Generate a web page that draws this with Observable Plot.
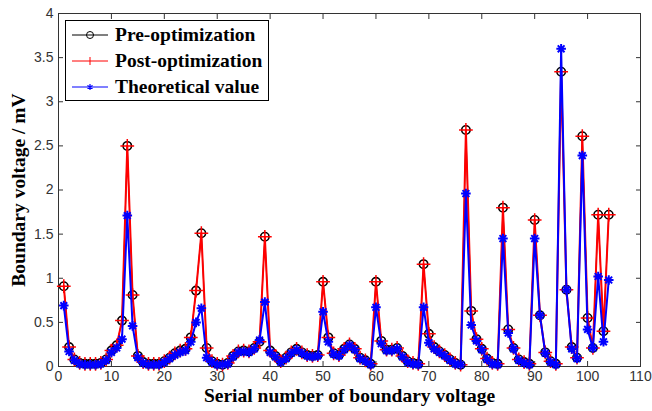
<!DOCTYPE html>
<html>
<head>
<meta charset="utf-8">
<script src="https://cdn.jsdelivr.net/npm/d3@7"></script>
<script src="https://cdn.jsdelivr.net/npm/@observablehq/plot@0.6"></script>
<style>
  body { margin: 0; background: #fff; }
  #wrap { position: relative; width: 652px; height: 411px; }
  #legend {
    position: absolute; left: 65px; top: 20px; width: 202px; height: 79px;
    background: #fff; border: 1px solid #000;
    font: bold 19.5px "Liberation Serif", "Times New Roman", serif; color: #000;
  }
  .row { position: absolute; left: 0; height: 26px; display: flex; align-items: center; white-space: nowrap; }
  .row svg { margin-left: 6px; margin-right: 7px; }
</style>
</head>
<body>
<div id="wrap"></div>
<script>
const serial = Array.from({length: 104}, (_, i) => i + 1);

const preOptimization = [
  0.91, 0.22, 0.08, 0.04, 0.03, 0.03, 0.03, 0.04, 0.08, 0.18,
  0.24, 0.52, 2.50, 0.81, 0.12, 0.05, 0.03, 0.03, 0.03, 0.06,
  0.10, 0.15, 0.18, 0.20, 0.33, 0.86, 1.51, 0.21, 0.06, 0.03,
  0.02, 0.04, 0.12, 0.17, 0.18, 0.17, 0.21, 0.28, 1.47, 0.18,
  0.12, 0.06, 0.10, 0.16, 0.20, 0.16, 0.13, 0.12, 0.13, 0.96,
  0.33, 0.15, 0.13, 0.20, 0.25, 0.20, 0.10, 0.07, 0.03, 0.96,
  0.29, 0.19, 0.19, 0.21, 0.12, 0.06, 0.04, 0.03, 1.16, 0.37,
  0.22, 0.17, 0.13, 0.08, 0.04, 0.02, 2.68, 0.63, 0.31, 0.20,
  0.09, 0.04, 0.03, 1.80, 0.42, 0.21, 0.08, 0.05, 0.03, 1.66,
  0.58, 0.16, 0.06, 0.03, 3.34, 0.87, 0.22, 0.10, 2.61, 0.55,
  0.21, 1.72, 0.40, 1.72
];

const postOptimization = [
  0.91, 0.22, 0.08, 0.04, 0.03, 0.03, 0.03, 0.04, 0.08, 0.18,
  0.24, 0.52, 2.50, 0.81, 0.12, 0.05, 0.03, 0.03, 0.03, 0.06,
  0.10, 0.15, 0.18, 0.20, 0.33, 0.86, 1.51, 0.21, 0.06, 0.03,
  0.02, 0.04, 0.12, 0.17, 0.18, 0.17, 0.21, 0.28, 1.47, 0.18,
  0.12, 0.06, 0.10, 0.16, 0.20, 0.16, 0.13, 0.12, 0.13, 0.96,
  0.33, 0.15, 0.13, 0.20, 0.25, 0.20, 0.10, 0.07, 0.03, 0.96,
  0.29, 0.19, 0.19, 0.21, 0.12, 0.06, 0.04, 0.03, 1.16, 0.37,
  0.22, 0.17, 0.13, 0.08, 0.04, 0.02, 2.68, 0.63, 0.31, 0.20,
  0.09, 0.04, 0.03, 1.80, 0.42, 0.21, 0.08, 0.05, 0.03, 1.66,
  0.58, 0.16, 0.06, 0.03, 3.34, 0.87, 0.22, 0.10, 2.61, 0.55,
  0.21, 1.72, 0.40, 1.72
];

const theoreticalValue = [
  0.69, 0.17, 0.07, 0.03, 0.02, 0.02, 0.02, 0.03, 0.07, 0.16,
  0.21, 0.31, 1.71, 0.46, 0.10, 0.04, 0.02, 0.02, 0.02, 0.05,
  0.09, 0.13, 0.16, 0.18, 0.28, 0.50, 0.66, 0.10, 0.05, 0.02,
  0.02, 0.03, 0.11, 0.16, 0.17, 0.16, 0.20, 0.30, 0.73, 0.16,
  0.11, 0.05, 0.09, 0.15, 0.19, 0.15, 0.12, 0.11, 0.12, 0.62,
  0.28, 0.14, 0.12, 0.19, 0.24, 0.19, 0.09, 0.06, 0.02, 0.67,
  0.26, 0.18, 0.18, 0.20, 0.11, 0.05, 0.03, 0.02, 0.67, 0.27,
  0.20, 0.16, 0.12, 0.07, 0.03, 0.02, 1.96, 0.47, 0.29, 0.19,
  0.08, 0.03, 0.02, 1.45, 0.38, 0.20, 0.07, 0.04, 0.02, 1.45,
  0.58, 0.15, 0.05, 0.02, 3.60, 0.87, 0.20, 0.09, 2.39, 0.42,
  0.21, 1.02, 0.28, 0.98
];

const xTicks = [0, 10, 20, 30, 40, 50, 60, 70, 80, 90, 100, 110];
const yTicks = [0, 0.5, 1, 1.5, 2, 2.5, 3, 3.5, 4];
const seriesNames = ["Pre-optimization", "Post-optimization", "Theoretical value"];
const xLabel = "Serial number of boundary voltage";
const yLabel = "Boundary voltage / mV";

const pre = serial.map((s, i) => ({s, v: preOptimization[i]}));
const post = serial.map((s, i) => ({s, v: postOptimization[i]}));
const theo = serial.map((s, i) => ({s, v: theoreticalValue[i]}));

const tickFontFamily = "Liberation Sans, Arial, sans-serif";
const titleFont = "Liberation Serif, Times New Roman, serif";

// MATLAB-style 8-armed asterisk marker
const star8 = {
  draw(context, size) {
    const r = Math.sqrt(size / Math.PI);
    const d = r * Math.SQRT1_2;
    context.moveTo(-r, 0); context.lineTo(r, 0);
    context.moveTo(0, -r); context.lineTo(0, r);
    context.moveTo(-d, -d); context.lineTo(d, d);
    context.moveTo(-d, d); context.lineTo(d, -d);
  }
};

const chart = Plot.plot({
  width: 652,
  height: 411,
  marginLeft: 58,
  marginRight: 12,
  marginTop: 13,
  marginBottom: 45,
  style: {background: "#fff", color: "#333"},
  x: {domain: [0, 110]},
  y: {domain: [0, 4]},
  marks: [
    Plot.axisX(xTicks, {anchor: "bottom", tickSize: -5, tickPadding: 10, label: null, fontSize: 14, fontFamily: tickFontFamily, stroke: "#333"}),
    Plot.axisX(xTicks, {anchor: "top", tickSize: -5, label: null, tickFormat: () => "", stroke: "#333"}),
    Plot.axisY(yTicks, {anchor: "left", tickSize: -5, tickPadding: 10, label: null, fontSize: 14, fontFamily: tickFontFamily, tickFormat: d => String(d), stroke: "#333"}),
    Plot.axisY(yTicks, {anchor: "right", tickSize: -5, label: null, tickFormat: () => "", stroke: "#333"}),
    Plot.frame({stroke: "#333"}),
    Plot.line(pre, {x: "s", y: "v", stroke: "#000", strokeWidth: 1}),
    Plot.dot(pre, {x: "s", y: "v", symbol: "circle", r: 4.2, stroke: "#000", strokeWidth: 1.6, fill: "none"}),
    Plot.line(post, {x: "s", y: "v", stroke: "#ff0000", strokeWidth: 2}),
    Plot.dot(post, {x: "s", y: "v", symbol: "plus", r: 4.5, stroke: "#ff0000", strokeWidth: 1.5}),
    Plot.line(theo, {x: "s", y: "v", stroke: "#0000ff", strokeWidth: 2}),
    Plot.dot(theo, {x: "s", y: "v", symbol: star8, r: 4.8, stroke: "#0000ff", strokeWidth: 2}),
    Plot.text([xLabel], {frameAnchor: "bottom", dy: 35, text: d => d, fontSize: 19.5, fontWeight: "bold", fontFamily: titleFont, fill: "#000"}),
    Plot.text([yLabel], {frameAnchor: "left", dx: -40, rotate: -90, textAnchor: "middle", text: d => d, fontSize: 19.5, fontWeight: "bold", fontFamily: titleFont, fill: "#000"})
  ]
});

const wrap = document.getElementById("wrap");
wrap.appendChild(chart);

// Legend
const legend = document.createElement("div");
legend.id = "legend";
const samples = [
  {stroke: "#000", sym: "circle"},
  {stroke: "#ff0000", sym: "plus"},
  {stroke: "#0000ff", sym: "asterisk"}
];
const rowTops = [1, 27, 53];
seriesNames.forEach((name, i) => {
  const row = document.createElement("div");
  row.className = "row";
  row.style.top = rowTops[i] + "px";
  const smp = samples[i];
  let marker = "";
  if (smp.sym === "circle") marker = `<circle cx="18" cy="7" r="3.5" fill="none" stroke="#000" stroke-width="1"/>`;
  if (smp.sym === "plus") marker = `<path d="M18,3V11" stroke="${smp.stroke}" stroke-width="1"/>`;
  if (smp.sym === "asterisk") marker = `<path d="M18,4V10M15.4,5.5L20.6,8.5M15.4,8.5L20.6,5.5" stroke="${smp.stroke}" stroke-width="1.2"/>`;
  row.innerHTML = `<svg width="36" height="14"><line x1="0" y1="7" x2="36" y2="7" stroke="${smp.stroke}" stroke-width="1"/>${marker}</svg><span>${name}</span>`;
  legend.appendChild(row);
});
wrap.appendChild(legend);
</script>
</body>
</html>
